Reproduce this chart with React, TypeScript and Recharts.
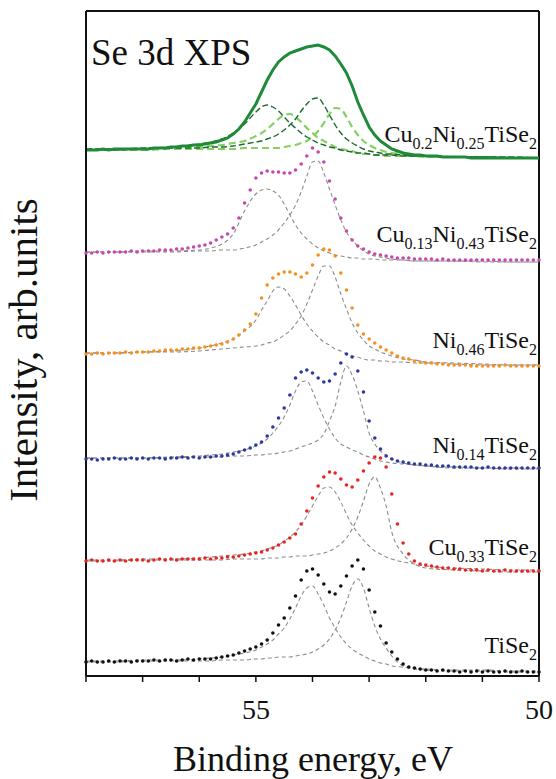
import React from 'react';
import { LineChart, Line, XAxis, YAxis, ReferenceLine } from 'recharts';

const SERIF = '"Liberation Serif", "DejaVu Serif", serif';

// Binding energy of measured points (eV)
const ENERGY = [58.0,57.9,57.8,57.7,57.6,57.5,57.4,57.3,57.2,57.1,57.0,56.9,56.8,56.7,56.6,56.5,56.4,56.3,56.2,56.1,56.0,55.9,55.8,55.7,55.6,55.5,55.4,55.3,55.2,55.1,55.0,54.9,54.8,54.7,54.6,54.5,54.4,54.3,54.2,54.1,54.0,53.9,53.8,53.7,53.6,53.5,53.4,53.3,53.2,53.1,53.0,52.9,52.8,52.7,52.6,52.5,52.4,52.3,52.2,52.1,52.0,51.9,51.8,51.7,51.6,51.5,51.4,51.3,51.2,51.1,51.0,50.9,50.8,50.7,50.6,50.5,50.4,50.3,50.2,50.1,50.0];

// Binding energy of fitted component curves (eV)
const FIT_ENERGY = [58,57.5,57,56.5,56,55.8,55.6,55.4,55.2,55.0,54.9,54.8,54.7,54.6,54.5,54.4,54.3,54.2,54.1,54.0,53.9,53.8,53.7,53.6,53.5,53.4,53.3,53.2,53.1,53.0,52.9,52.8,52.7,52.6,52.4,52.2,52.0,51.5,51.0,50.5,50.0];

const X_TICKS = [58, 57, 56, 55, 54, 53, 52, 51, 50];
const X_TICK_LABELS = [55, 50];

// vertical stacking offsets (arb. units)
const OFFSETS = [515, 410, 305, 205, 100, 0];

// ---- measured intensities (arb. units, relative to offset) ----
const CU02NI025 = [11,11,11,12,11,12,12,12,12,12,12,12,13,13,13,14,14,15,15,16,16,17,18,19,21,23,27,32,39,48,57,69,81,91,99,104,108,110,112,114,115,116,114,111,105,97,88,75,59,46,34,26,20,16,12,10,8,7,6,6,5,5,5,4,4,4,4,4,3,3,3,3,3,3,3,3,3,3,3,3,3];
const CU013NI043 = [13,13,14,13,14,14,14,14,15,14,15,15,15,16,16,16,17,17,18,19,20,21,23,26,29,32,38,48,63,76,88,93,95,94,94,93,93,96,102,110,118,114,104,85,67,48,35,26,20,17,14,12,11,10,9,8,8,8,7,7,7,7,6,7,6,6,6,6,6,6,6,6,6,6,6,6,6,6,6,6,6];
const NI046 = [17,17,18,17,18,18,18,19,18,19,19,19,20,20,21,21,21,22,22,23,23,24,25,26,27,29,32,36,41,47,57,73,86,93,97,99,99,97,94,98,106,116,122,121,115,98,81,63,46,37,32,28,24,21,18,15,13,12,10,9,8,8,7,7,6,6,6,6,5,5,5,5,5,5,6,5,5,5,5,5,5];
const NI014 = [12,12,11,12,12,13,12,12,13,12,13,12,13,13,12,13,13,14,13,14,13,14,14,15,15,16,17,19,21,23,26,29,35,44,53,63,76,93,99,101,98,93,89,90,97,108,117,114,100,79,50,33,22,15,12,10,9,8,7,7,6,6,5,5,5,4,4,4,4,3,3,4,3,3,3,3,3,3,3,3,3];
const CU033 = [15,16,15,15,16,15,16,15,16,16,16,15,16,17,16,17,16,17,17,17,17,18,17,18,18,19,19,20,21,22,23,24,26,28,31,34,38,42,52,65,78,90,99,104,103,97,91,89,96,105,113,119,118,109,82,52,33,22,15,12,11,10,9,8,8,7,7,6,6,6,5,6,5,5,6,5,5,5,5,5,5];
const TISE2 = [14,15,14,14,15,14,15,15,14,15,15,15,16,15,16,16,15,16,17,16,17,17,17,18,19,20,21,23,25,27,29,32,36,43,51,58,68,80,96,105,107,101,92,84,82,90,100,110,116,107,86,64,50,33,24,17,12,9,8,7,6,6,5,6,5,5,4,5,4,5,4,5,4,4,5,4,4,5,4,4,4];

// ---- fitted components (arb. units, relative to offset) ----
const CU02NI025_FIT_D1 = [12,12,13,14,17,19,22,28,37,49,54,56,54,50,44,38,33,28,24,21,18,16,14,13,11,10,9,8,8,7,6,6,6,6,5,5,5,4,4,4,3];
const CU02NI025_FIT_D2 = [11,11,12,13,13,14,14,15,17,19,20,22,24,27,31,36,42,50,57,62,63,56,46,36,28,22,18,15,12,10,9,8,7,7,6,5,5,4,4,3,3];
const CU02NI025_FIT_L1 = [12,12,12,13,14,15,16,18,20,25,28,32,37,42,46,47,44,39,33,28,23,20,17,14,12,11,10,8,7,7,6,6,5,5,5,5,4,4,4,3,3];
const CU02NI025_FIT_L2 = [11,11,11,12,12,12,12,12,13,13,13,13,13,13,14,15,16,18,20,24,30,38,47,53,52,44,34,26,20,16,13,11,9,8,7,6,5,4,4,3,3];
const CU013NI043_FIT_1 = [14,14,15,15,16,18,22,32,55,72,76,77,75,71,62,51,41,33,27,22,18,15,13,11,10,9,8,8,7,7,7,6,6,6,6,5,5,5,5,4,4];
const CU013NI043_FIT_2 = [14,14,14,14,15,15,16,16,18,21,24,27,31,36,43,51,61,74,90,104,105,93,77,61,46,34,26,20,15,12,10,9,8,7,6,5,5,5,4,4,4];
const NI046_FIT_1 = [18,18,19,20,23,25,28,32,40,51,61,70,80,84,82,75,66,56,47,40,34,29,26,22,20,17,15,14,12,11,11,10,10,9,9,8,8,7,6,6,6];
const NI046_FIT_2 = [18,18,19,19,20,21,22,23,24,25,26,28,29,32,36,40,47,55,67,81,95,105,105,94,77,62,48,38,31,25,22,19,17,15,12,11,9,8,7,6,6];
const NI014_FIT_1 = [13,13,13,14,15,16,17,19,21,25,28,32,38,45,54,66,80,89,90,80,66,53,42,33,27,24,21,19,16,14,12,10,9,8,7,6,5,4,3,3,3];
const NI014_FIT_2 = [13,13,13,13,14,14,14,15,15,16,16,17,17,18,19,20,22,24,26,28,31,37,50,65,89,105,96,80,60,38,27,20,16,12,8,6,5,3,3,2,2];
const CU033_FIT_1 = [16,16,17,17,18,19,20,21,22,24,25,27,29,31,35,39,44,51,60,70,80,88,89,84,74,62,51,43,36,30,25,22,19,17,14,12,10,8,7,6,6];
const CU033_FIT_2 = [15,15,16,16,16,16,16,17,17,17,17,18,18,18,19,19,20,20,20,21,22,23,25,28,32,38,47,59,75,92,99,88,70,44,22,12,8,6,5,4,4];
const TISE2_FIT_1 = [15,15,16,16,17,18,19,21,23,26,29,32,36,42,48,57,68,80,88,90,82,71,58,48,39,32,27,23,20,17,15,13,12,10,9,8,7,6,6,5,5];
const TISE2_FIT_2 = [14,14,15,15,15,15,16,16,16,17,17,18,18,19,19,19,20,21,22,24,27,31,37,46,58,74,90,97,88,68,50,37,28,20,10,7,6,5,5,4,4];

// ---- sample names (text, isSubscript) ----
const LABEL_PARTS: [string, number][][] = [
  [['Cu', 0], ['0.2', 1], ['Ni', 0], ['0.25', 1], ['TiSe', 0], ['2', 1]],
  [['Cu', 0], ['0.13', 1], ['Ni', 0], ['0.43', 1], ['TiSe', 0], ['2', 1]],
  [['Ni', 0], ['0.46', 1], ['TiSe', 0], ['2', 1]],
  [['Ni', 0], ['0.14', 1], ['TiSe', 0], ['2', 1]],
  [['Cu', 0], ['0.33', 1], ['TiSe', 0], ['2', 1]],
  [['TiSe', 0], ['2', 1]],
];
const LABEL_BASELINES = [142, 242, 348, 453, 555, 653];

const GREEN = '#1f8a3a';
const GREEN_DARK = '#1b6a2d';
const GREEN_LIGHT = '#86cf62';
const FIT_GRAY = '#8c8c8c';

type Fit = { values: number[]; color: string; width: number; dash: string };
type Spectrum = { key: string; values: number[]; color: string; solid: boolean; fits: Fit[] };

const grayFit = (values: number[]): Fit => ({ values, color: FIT_GRAY, width: 1.1, dash: '4 3' });

const SPECTRA: Spectrum[] = [
  {
    key: 'cu02ni025', values: CU02NI025, color: GREEN, solid: true,
    fits: [
      { values: CU02NI025_FIT_L1, color: GREEN_LIGHT, width: 2.2, dash: '7 4' },
      { values: CU02NI025_FIT_L2, color: GREEN_LIGHT, width: 2.2, dash: '7 4' },
      { values: CU02NI025_FIT_D1, color: GREEN_DARK, width: 1.4, dash: '6 3' },
      { values: CU02NI025_FIT_D2, color: GREEN_DARK, width: 1.4, dash: '6 3' },
    ],
  },
  { key: 'cu013ni043', values: CU013NI043, color: '#c548ad', solid: false, fits: [grayFit(CU013NI043_FIT_1), grayFit(CU013NI043_FIT_2)] },
  { key: 'ni046', values: NI046, color: '#f5901e', solid: false, fits: [grayFit(NI046_FIT_1), grayFit(NI046_FIT_2)] },
  { key: 'ni014', values: NI014, color: '#2c3a9c', solid: false, fits: [grayFit(NI014_FIT_1), grayFit(NI014_FIT_2)] },
  { key: 'cu033', values: CU033, color: '#e8251f', solid: false, fits: [grayFit(CU033_FIT_1), grayFit(CU033_FIT_2)] },
  { key: 'tise2', values: TISE2, color: '#111111', solid: false, fits: [grayFit(TISE2_FIT_1), grayFit(TISE2_FIT_2)] },
];

const toPoints = (xs: number[], ys: number[], off: number) => xs.map((x, i) => ({ x, y: ys[i] + off }));

const textStyle = { fontFamily: SERIF };

function Formula({ parts, x, y }: { parts: [string, number][]; x: number; y: number }) {
  let level = 0;
  return (
    <text x={x} y={y} textAnchor="end" style={{ ...textStyle, fontSize: 24 }} fill="#111">
      {parts.map(([t, sub], i) => {
        const dy = sub ? (level ? 0 : 7) : level ? -7 : 0;
        level = sub ? 1 : 0;
        return (
          <tspan key={i} dy={dy} style={{ fontSize: sub ? 16 : 24 }}>
            {t}
          </tspan>
        );
      })}
    </text>
  );
}

export default function App() {
  const lines: React.ReactNode[] = [];
  SPECTRA.forEach((s, si) => {
    const off = OFFSETS[si];
    s.fits.forEach((f, fi) => {
      lines.push(
        <Line
          key={`${s.key}-fit-${fi}`}
          data={toPoints(FIT_ENERGY, f.values, off)}
          dataKey="y"
          type="monotone"
          stroke={f.color}
          strokeWidth={f.width}
          strokeDasharray={f.dash}
          dot={false}
          activeDot={false}
          isAnimationActive={false}
        />
      );
    });
    const pts = toPoints(ENERGY, s.values, off);
    lines.push(
      s.solid ? (
        <Line
          key={`${s.key}-data`}
          data={pts}
          dataKey="y"
          type="linear"
          stroke={s.color}
          strokeWidth={3}
          dot={false}
          activeDot={false}
          isAnimationActive={false}
        />
      ) : (
        <Line
          key={`${s.key}-data`}
          data={pts}
          dataKey="y"
          type="linear"
          stroke="none"
          dot={{ r: 1.8, fill: s.color, stroke: 'none' }}
          activeDot={false}
          isAnimationActive={false}
        />
      )
    );
  });

  return (
    <div style={{ position: 'absolute', left: 0, top: 0, width: 556, height: 779, background: '#fff', fontFamily: SERIF }}>
      <LineChart width={556} height={779} margin={{ top: 11, right: 17, bottom: 53, left: 85 }} style={{ fontFamily: SERIF }}>
        <XAxis
          type="number"
          dataKey="x"
          domain={[50, 58]}
          reversed
          ticks={X_TICKS}
          interval={0}
          tickFormatter={(v: number) => (X_TICK_LABELS.includes(v) ? String(v) : '')}
          height={50}
          tickSize={6}
          tickMargin={17}
          axisLine={{ stroke: '#111', strokeWidth: 2 }}
          tickLine={{ stroke: '#111', strokeWidth: 1.5 }}
          tick={{ fill: '#111', fontSize: 28, style: { fontFamily: SERIF } }}
        />
        <YAxis
          type="number"
          domain={[0, 665]}
          width={1}
          tick={false}
          tickLine={false}
          axisLine={{ stroke: '#111', strokeWidth: 2 }}
        />
        <ReferenceLine y={665} stroke="#111" strokeWidth={2} />
        <ReferenceLine x={50} stroke="#111" strokeWidth={2} />
        {lines}
      </LineChart>
      <svg width={556} height={779} style={{ position: 'absolute', left: 0, top: 0, pointerEvents: 'none' }}>
        <text x={91} y={65} style={{ ...textStyle, fontSize: 37 }} fill="#111">Se 3d XPS</text>
        <text
          transform="translate(37,350) rotate(-90)"
          textAnchor="middle"
          style={{ ...textStyle, fontSize: 41 }}
          fill="#111"
        >
          Intensity, arb.units
        </text>
        <text x={313} y={771} textAnchor="middle" style={{ ...textStyle, fontSize: 36 }} fill="#111">
          Binding energy, eV
        </text>
        {LABEL_PARTS.map((p, i) => (
          <Formula key={i} parts={p} x={537} y={LABEL_BASELINES[i]} />
        ))}
      </svg>
    </div>
  );
}
